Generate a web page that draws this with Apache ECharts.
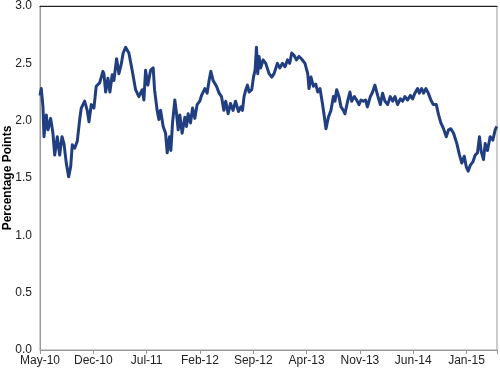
<!DOCTYPE html>
<html>
<head>
<meta charset="utf-8">
<script src="https://cdn.jsdelivr.net/npm/echarts@6/dist/echarts.min.js"></script>
<style>
html,body{margin:0;padding:0;background:#fff;}
#chart{width:500px;height:371px;}
</style>
</head>
<body>
<div id="chart"></div>
<script>
// x positions are months elapsed since May-2010
var tickLabels = ['May-10','Dec-10','Jul-11','Feb-12','Sep-12','Apr-13','Nov-13','Jun-14','Jan-15'];
var months = [0,0.17,0.39,0.52,0.83,1.05,1.40,1.70,1.93,2.27,2.58,2.89,3.15,3.45,3.76,4.03,4.24,4.55,4.89,5.21,5.42,5.86,6.20,6.43,6.73,7.08,7.38,7.83,8.26,8.39,8.62,8.92,9.18,9.48,9.70,10.06,10.36,10.66,10.92,11.24,11.67,12.10,12.55,12.98,13.42,13.64,13.86,14.16,14.52,14.86,15.04,15.38,15.61,15.83,16.17,16.49,16.70,17.01,17.18,17.40,17.70,17.93,18.14,18.36,18.66,19.02,19.24,19.45,19.76,20.03,20.33,20.63,20.98,21.21,21.42,21.64,21.94,22.20,22.43,22.73,23.17,23.52,23.83,24.13,24.39,24.70,25.01,25.35,25.67,26.06,26.36,26.58,26.79,27.02,27.24,27.45,27.80,28.03,28.24,28.42,28.59,28.76,28.98,29.29,29.64,30.07,30.43,30.73,31.17,31.48,31.83,32.17,32.49,32.79,33.05,33.35,33.67,34.01,34.32,34.79,35.15,35.32,35.58,35.90,36.20,36.46,36.76,37.08,37.34,37.55,37.86,38.20,38.52,38.73,38.95,39.25,39.52,39.83,40.04,40.39,40.69,40.92,41.27,41.57,41.88,42.14,42.45,42.75,42.98,43.37,43.67,43.97,44.33,44.68,44.98,45.28,45.64,45.99,46.30,46.60,46.95,47.31,47.61,47.91,48.26,48.62,48.92,49.22,49.57,49.80,50.10,50.36,50.66,50.98,51.32,51.63,52.03,52.33,52.63,52.98,53.34,53.64,53.94,54.30,54.73,55.08,55.38,55.70,55.96,56.22,56.48,56.83,57.14,57.44,57.70,57.93,58.23,58.45,58.75,59.10,59.45,59.76,59.97];
var values = [2.22,2.28,2.12,1.86,2.05,1.92,2.02,1.89,1.70,1.86,1.70,1.86,1.80,1.63,1.51,1.60,1.79,1.76,1.82,2.01,2.11,2.17,2.09,1.99,2.14,2.11,2.30,2.33,2.43,2.41,2.25,2.37,2.25,2.40,2.35,2.54,2.41,2.49,2.59,2.64,2.59,2.44,2.27,2.21,2.27,2.18,2.44,2.31,2.44,2.46,2.27,2.09,2.01,2.09,1.95,1.89,1.72,1.86,1.74,1.98,2.18,2.06,1.92,2.05,1.89,2.03,1.95,2.06,1.98,2.11,2.02,2.14,2.17,2.22,2.21,2.28,2.24,2.35,2.43,2.35,2.30,2.24,2.21,2.09,2.17,2.06,2.15,2.09,2.17,2.08,2.12,2.09,2.21,2.27,2.31,2.25,2.27,2.38,2.44,2.64,2.41,2.56,2.46,2.53,2.50,2.41,2.38,2.41,2.50,2.46,2.50,2.47,2.53,2.50,2.59,2.57,2.53,2.56,2.54,2.50,2.41,2.28,2.38,2.30,2.32,2.25,2.28,2.15,2.03,1.93,2.03,2.09,2.21,2.17,2.27,2.21,2.12,2.09,2.06,2.17,2.25,2.17,2.21,2.18,2.14,2.18,2.17,2.18,2.12,2.21,2.25,2.31,2.22,2.14,2.24,2.17,2.14,2.21,2.17,2.21,2.14,2.19,2.17,2.21,2.18,2.22,2.19,2.24,2.28,2.24,2.28,2.24,2.28,2.24,2.18,2.14,2.14,2.05,1.98,1.93,1.86,1.92,1.93,1.89,1.80,1.70,1.63,1.69,1.60,1.56,1.61,1.64,1.70,1.72,1.86,1.73,1.66,1.80,1.74,1.86,1.83,1.92,1.95];

var seriesData = months.map(function(m, i){ return [m, values[i]]; });

var chart = echarts.init(document.getElementById('chart'), null, {renderer:'canvas'});
var font = 'Liberation Sans, Arial, sans-serif';
chart.setOption({
  animation: false,
  backgroundColor: '#ffffff',
  grid: {left: 40, right: 3, top: 6, bottom: 21, containLabel: false, outerBoundsMode: 'none',
         show: true, borderColor: '#9a9a9a', borderWidth: 1},
  xAxis: [{
    type: 'value', min: 0, max: 60, interval: 7,
    axisLine: {show: true, lineStyle: {color: '#9a9a9a', width: 1}},
    axisTick: {show: true, length: 4, lineStyle: {color: '#9a9a9a'}},
    splitLine: {show: false},
    showMaxLabel: false,
    axisLabel: {
      color: '#222', fontSize: 12, fontFamily: font, margin: 5,
      formatter: function(v){ var k = Math.round(v/7); return (Math.abs(v - k*7) < 1e-6 && tickLabels[k]) ? tickLabels[k] : ''; }
    }
  }, {
    type: 'value', min: 0, max: 60, position: 'top',
    axisLine: {show: true, lineStyle: {color: '#222', width: 1}},
    axisTick: {show: false}, axisLabel: {show: false}, splitLine: {show: false}
  }],
  yAxis: {
    type: 'value', min: 0, max: 3, interval: 0.5,
    name: 'Percentage Points', nameLocation: 'middle', nameGap: 26, nameMoveOverlap: false,
    nameTextStyle: {fontWeight: 'bold', fontSize: 12, color: '#000', fontFamily: font},
    axisLine: {show: true, lineStyle: {color: '#9a9a9a', width: 1}},
    axisTick: {show: false},
    splitLine: {show: false},
    axisLabel: {color: '#222', fontSize: 12, fontFamily: font, margin: 8,
      formatter: function(v){ return v.toFixed(1); }}
  },
  series: [{
    type: 'line', data: seriesData, xAxisIndex: 0,
    showSymbol: false, symbol: 'none',
    lineStyle: {color: '#213f80', width: 3, join: 'round'}
  }]
});
</script>
</body>
</html>
